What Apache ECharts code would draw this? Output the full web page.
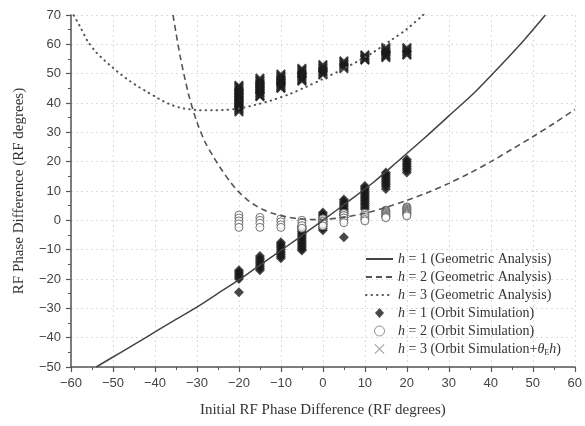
<!DOCTYPE html>
<html><head><meta charset="utf-8">
<script src="https://cdn.jsdelivr.net/npm/echarts@6/dist/echarts.min.js"></script>
<style>html,body{margin:0;padding:0;background:#fff}#c{width:585px;height:426px}</style>
</head><body><div id="c"></div>
<script>
// axis ranges [min, max, interval]
const xRange = [-60, 60, 10];
const yRange = [-50, 70, 10];

// Geometric analysis curves
const geo1X = [-54,-48,-42,-36,-30,-24,-18,-12,-6,0,6,12,18,24,30,36,42,48,53];
const geo1Y = [-50,-44.9,-39.8,-34.6,-29.6,-24.0,-18.3,-12.3,-6.2,0,6.4,12.9,20.3,27.8,35.6,43.4,52.3,61.6,70];

const geo2X = [-35.7,-34,-32,-30,-28,-26,-24,-22,-20,-18,-16,-14,-12,-10,-8,-6,-4,-2,0,5,10,15,20,25,30,35,40,45,50,55,60];
const geo2Y = [70,56,43,33.5,26.5,21.5,17.0,13.0,9.6,7.0,5.0,3.5,2.4,1.6,1.0,0.6,0.35,0.25,0.3,1.0,2.4,4.4,6.8,9.5,12.6,16.1,20.0,24.2,28.5,33.0,37.8];

const geo3X = [-60,-58,-56,-54,-52,-50,-48,-46,-44,-42,-40,-38,-36,-34,-32,-30,-28,-26,-24,-20,-16,-12,-8,-4,0,4,8,12,16,20,24];
const geo3Y = [71.5,66.5,61.0,57.3,54.5,52.0,49.6,47.5,45.6,43.9,42.2,40.6,39.3,38.4,37.9,37.6,37.5,37.5,37.6,38.1,39.4,41.0,43.0,45.5,48.2,51.0,54.0,57.3,61.2,65.2,70.2];

// Orbit simulation columns
const orbitX = [-20,-15,-10,-5,0,5,10,15,20];
const h1Orbit = [
  [-17,-17.6,-18.2,-18.8,-19.4,-20,-24.5],
  [-12.2,-12.8,-13.4,-14,-14.6,-15.2,-15.8,-16.4,-17],
  [-7.5,-8.1,-8.7,-9.3,-9.9,-10.5,-11.1,-11.7,-12.3,-12.9],
  [-2,-2.6,-3.2,-3.8,-4.4,-5,-5.6,-6.2,-6.8,-7.4,-8,-8.6,-9.2,-9.8,-10.3],
  [2.7,2.1,1.5,0.9,0.3,-0.3,-0.9,-1.5,-2.1,-2.7,-3.4],
  [7.1,6.5,5.9,5.3,4.7,4.1,3.5,2.9,2.3,1.7,1.0,-5.8],
  [11.7,11.1,10.5,9.9,9.3,8.7,8.1,7.5,6.9,6.3,5.7,5.1,4.5,3.9],
  [16.3,15.7,15.1,14.5,13.9,13.3,12.7,12.1,11.5,10.7],
  [20.7,20.1,19.5,18.9,18.3,17.7,17.1,16.3]
];
const h2Orbit = [
  [1.8,0.8,-0.2,-1.2,-2.4],
  [1.0,0,-1,-2.4],
  [0.5,-0.5,-1.5,-2.4],
  [0,-0.9,-1.8,-2.7],
  [0.5,-0.3,-1.1,-1.9],
  [2.4,1.6,0.8,0,-0.8],
  [2.4,1.7,1.0,0.3,-0.2],
  [3.5,3.2,2.9,2.6,2.3,2.0,1.7,1.4,1.1,0.9],
  [4.6,4.3,4.0,3.7,3.4,3.1,2.8,2.5,2.2,1.9,1.5]
];
const h3Orbit = [
  [46,45.5,45,44.5,44,43.5,43,42.5,42,41.5,41,40.5,40,39.5,39,38.5,38,37.5,37],
  [48.4,47.9,47.4,46.9,46.4,45.9,45.4,44.9,44.4,43.9,43.4,42.9,42.4,42.2],
  [49.8,49.3,48.8,48.3,47.8,47.3,46.8,46.3,45.8,45.3,45],
  [51.8,51.3,50.8,50.3,49.8,49.3,48.8,48.3,47.8,47.5],
  [53,52.5,52,51.5,51,50.5,50,49.6],
  [54.3,53.8,53.3,52.8,52.3,51.8],
  [56.4,55.9,55.4,54.9,54.7],
  [58.9,58.4,57.9,57.4,56.9,56.4,55.9,55.5],
  [58.8,58.3,57.8,57.3,56.8,56.4]
];

const seriesNames = ['g1','g2','g3','o1','o2','o3'];
const legendLabels = [
  '{i|h} = 1 (Geometric Analysis)',
  '{i|h} = 2 (Geometric Analysis)',
  '{i|h} = 3 (Geometric Analysis)',
  '{i|h} = 1 (Orbit Simulation)',
  '{i|h} = 2 (Orbit Simulation)',
  '{i|h} = 3 (Orbit Simulation+{i|θ}{sub|E}{i|h})'
];

const zip = (xs, ys) => xs.map((x, i) => [x, ys[i]]);
const cols = (arr) => arr.flatMap((col, i) => col.map(v => [orbitX[i], v]));

const crossPathBold = 'path://M0,1.5L1.5,0L10,8.5L8.5,10Z M8.5,0L10,1.5L1.5,10L0,8.5Z';
const crossPathThin = 'path://M0,0.7L0.7,0L10,9.3L9.3,10Z M9.3,0L10,0.7L0.7,10L0,9.3Z';
const diamondPath = 'path://M4.5,0L9,5L4.5,10L0,5Z';
const serif = '"Liberation Serif","DejaVu Serif",serif';
const sans = '"Liberation Sans",Arial,sans-serif';

const chart = echarts.init(document.getElementById('c'), null, {renderer: 'canvas'});
const axisCommon = {
  axisLine: {show: true, onZero: false, lineStyle: {color: '#555', width: 1.5}},
  axisTick: {show: true, inside: false, length: 5, lineStyle: {color: '#555', width: 1.2}},
  minorTick: {show: true, splitNumber: 2, length: 3, lineStyle: {color: '#555', width: 1}},
  splitLine: {show: true, lineStyle: {color: '#dcdcdc', type: [2, 3], width: 1}},
  axisLabel: {fontFamily: sans, fontSize: 13, color: '#444',
    formatter: v => String(v).replace('-', '\u2212')},
  nameTextStyle: {fontFamily: serif, fontSize: 15, color: '#333'}
};

chart.setOption({
  animation: false,
  backgroundColor: '#fff',
  grid: {left: 71, right: 10, top: 15, bottom: 59, containLabel: false},
  xAxis: Object.assign({}, axisCommon, {
    type: 'value', min: xRange[0], max: xRange[1], interval: xRange[2],
    name: 'Initial RF Phase Difference (RF degrees)', nameLocation: 'middle', nameGap: 36,
    axisLabel: Object.assign({}, axisCommon.axisLabel, {margin: 10})
  }),
  yAxis: Object.assign({}, axisCommon, {
    type: 'value', min: yRange[0], max: yRange[1], interval: yRange[2],
    name: 'RF Phase Difference (RF degrees)', nameLocation: 'middle', nameGap: 44,
    axisLabel: Object.assign({}, axisCommon.axisLabel, {margin: 10})
  }),
  legend: {
    orient: 'vertical', left: 360, top: 246,
    itemWidth: 27, itemHeight: 10, itemGap: 2,
    data: [
      {name: 'g1', itemStyle: {opacity: 0}},
      {name: 'g2', itemStyle: {opacity: 0}},
      {name: 'g3', itemStyle: {opacity: 0}},
      {name: 'o1', icon: diamondPath},
      {name: 'o2', icon: 'circle', itemStyle: {borderColor: '#777', borderWidth: 1}},
      {name: 'o3', icon: crossPathThin, itemStyle: {color: '#888'}}
    ],
    formatter: name => legendLabels[seriesNames.indexOf(name)],
    textStyle: {
      fontFamily: serif, fontSize: 14, color: '#333', lineHeight: 16,
      rich: {
        i: {fontFamily: serif, fontSize: 14, fontStyle: 'italic', color: '#333'},
        sub: {fontFamily: serif, fontSize: 8, color: '#333', padding: [7, 0, 0, 0]}
      }
    }
  },
  series: [
    {name: 'o1', type: 'scatter', symbol: 'diamond', symbolSize: 10,
      itemStyle: {color: '#1a1a1a'}, data: cols(h1Orbit), z: 2},
    {name: 'o2', type: 'scatter', symbol: 'circle', symbolSize: 8,
      itemStyle: {color: '#fff', borderColor: '#555', borderWidth: 1}, data: cols(h2Orbit), z: 2},
    {name: 'o3', type: 'scatter', symbol: crossPathBold, symbolSize: 10, symbolKeepAspect: true,
      itemStyle: {color: '#1a1a1a'}, data: cols(h3Orbit), z: 2},
    {name: 'g1', type: 'line', symbol: 'none', smooth: 0.3, data: zip(geo1X, geo1Y),
      lineStyle: {color: '#444', width: 1.5}, itemStyle: {color: '#444'}, z: 3},
    {name: 'g2', type: 'line', symbol: 'none', smooth: 0.3, data: zip(geo2X, geo2Y),
      lineStyle: {color: '#555', width: 1.6, type: [6, 4]}, itemStyle: {color: '#555'}, z: 3},
    {name: 'g3', type: 'line', symbol: 'none', smooth: 0.3, data: zip(geo3X, geo3Y),
      lineStyle: {color: '#555', width: 2, type: [0.5, 5], cap: 'round'}, itemStyle: {color: '#555'}, z: 3}
  ]
});
</script></body></html>
